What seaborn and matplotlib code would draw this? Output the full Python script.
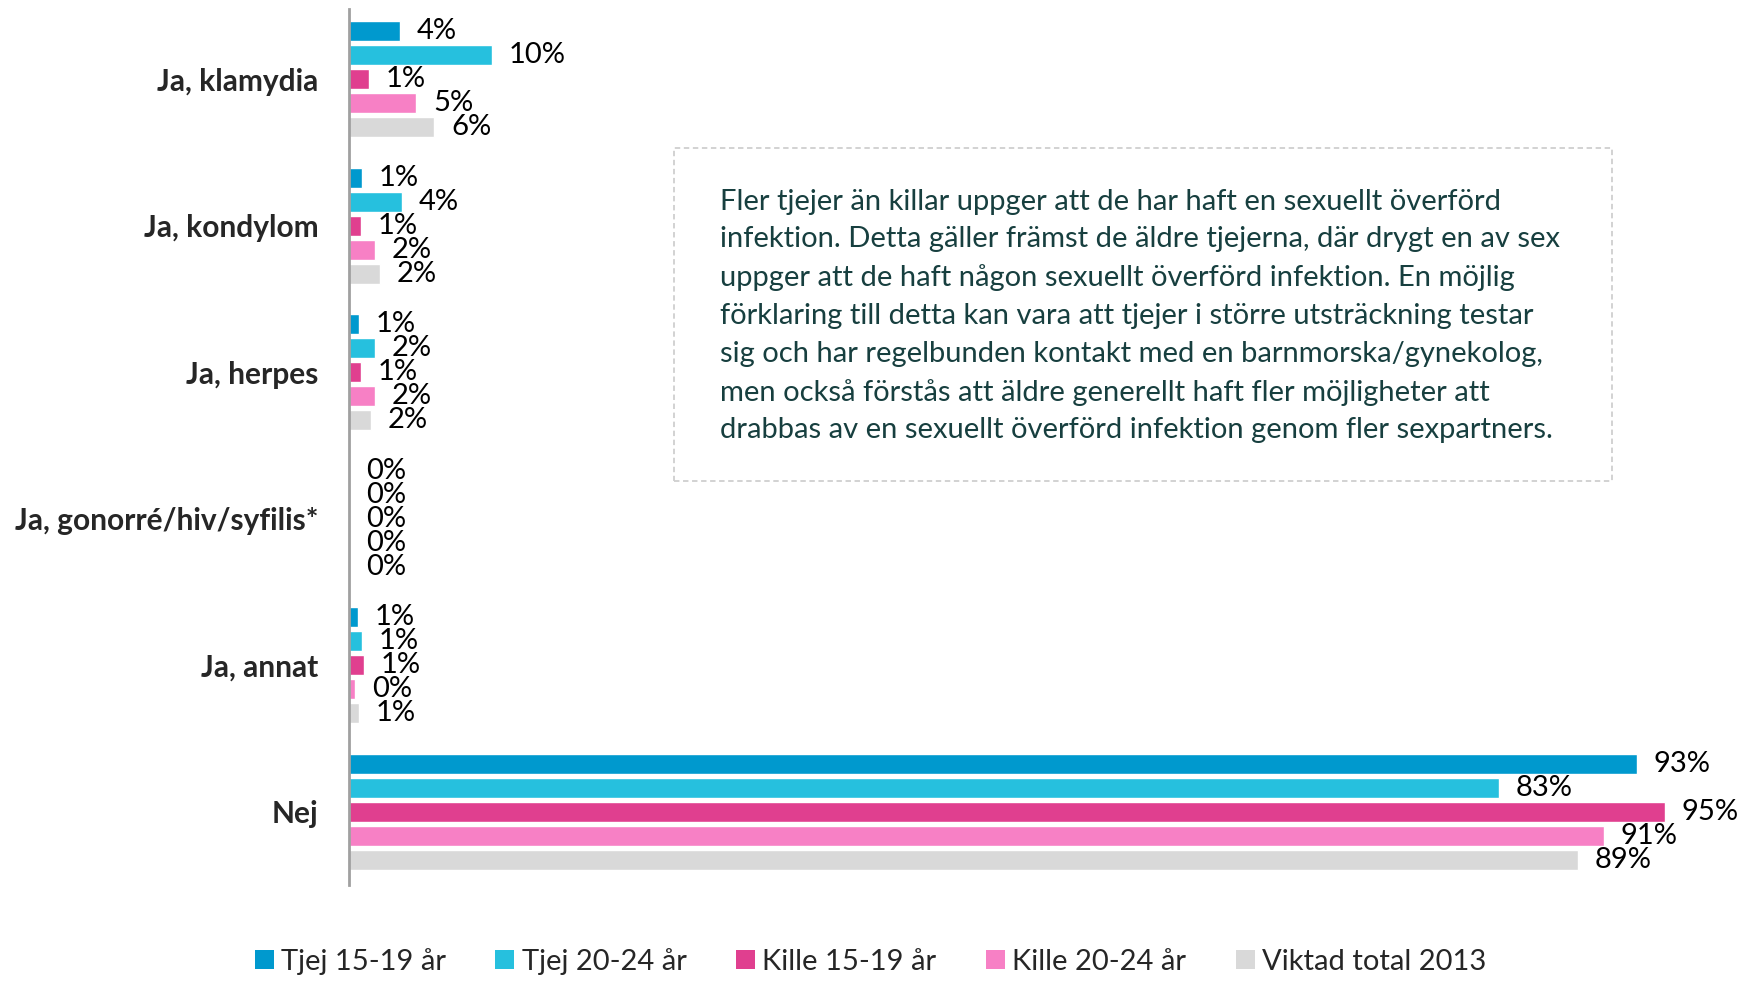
import pandas as pd
import seaborn as sns
import matplotlib.pyplot as plt
from matplotlib.patches import Patch, FancyBboxPatch

# ==============================
# Data
# ==============================
categories = ["Ja, klamydia", "Ja, kondylom", "Ja, herpes",
              "Ja, gonorré/hiv/syfilis*", "Ja, annat", "Nej"]
groups = ["Tjej 15-19 år", "Tjej 20-24 år", "Kille 15-19 år",
          "Kille 20-24 år", "Viktad total 2013"]

tjej_15_19 = [3.7, 0.9, 0.7, 0.0, 0.65, 93.0]
tjej_20_24 = [10.3, 3.8, 1.85, 0.0, 0.9, 83.0]
kille_15_19 = [1.45, 0.85, 0.85, 0.0, 1.05, 95.0]
kille_20_24 = [4.85, 1.85, 1.85, 0.0, 0.45, 90.6]
viktad_2013 = [6.15, 2.2, 1.55, 0.0, 0.75, 88.7]

colors = ["#0099CE", "#26C0DE", "#E03F8F", "#F780C5", "#D9D9D9"]

note = ("Fler tjejer än killar uppger att de har haft en sexuellt överförd\n"
        "infektion. Detta gäller främst de äldre tjejerna, där drygt en av sex\n"
        "uppger att de haft någon sexuellt överförd infektion. En möjlig\n"
        "förklaring till detta kan vara att tjejer i större utsträckning testar\n"
        "sig och har regelbunden kontakt med en barnmorska/gynekolog,\n"
        "men också förstås att äldre generellt haft fler möjligheter att\n"
        "drabbas av en sexuellt överförd infektion genom fler sexpartners.")

# long format table for seaborn
series = [tjej_15_19, tjej_20_24, kille_15_19, kille_20_24, viktad_2013]
rows = []
for g, vals in zip(groups, series):
    for c, v in zip(categories, vals):
        rows.append({"svar": c, "grupp": g, "andel": v})
df = pd.DataFrame(rows)

# ==============================
# Plot
# ==============================
sns.set_style("white")
plt.rcParams["font.family"] = ["Lato", "DejaVu Sans"]

fig = plt.figure(figsize=(17.41, 9.81), dpi=100)
ax = fig.add_axes([0.2005, 0.098, 0.7955, 0.893])

sns.barplot(data=df, y="svar", x="andel", hue="grupp", order=categories,
            hue_order=groups, palette=colors, orient="h", width=0.82,
            gap=0.17, saturation=1, legend=False, ax=ax)

# value labels (rounded half up like the source)
for cont in ax.containers:
    ax.bar_label(cont, labels=[f"{int(v + 0.5)}%" for v in cont.datavalues],
                 padding=12, fontsize=21, color="black")

ax.set_xlim(0, 100)
ax.set_ylim(5.5, -0.48)
ax.set_xlabel("")
ax.set_ylabel("")
ax.set_xticks([])
ax.tick_params(axis="y", length=0, pad=22)
for lab in ax.get_yticklabels():
    lab.set_fontsize(21.5)
    lab.set_fontweight("bold")
for side in ["top", "right", "bottom"]:
    ax.spines[side].set_visible(False)
ax.spines["left"].set_color("#A0A0A0")
ax.spines["left"].set_linewidth(2)

# comment box
box = FancyBboxPatch((674 / 1741, 1 - 481 / 981), (1612 - 674) / 1741,
                     (481 - 148) / 981, boxstyle="square,pad=0",
                     transform=fig.transFigure, fill=False,
                     edgecolor="#CFCFCF", linestyle=(0, (3, 2)), linewidth=1.3)
fig.add_artist(box)
fig.text(720 / 1741, 1 - 316 / 981, note, fontsize=21, color="#173F3F",
         va="center", ha="left", linespacing=1.55)

# legend
handles = [Patch(facecolor=c, edgecolor="none") for c in colors]
fig.legend(handles, groups, loc="center", bbox_to_anchor=(0.5, 0.02),
           ncol=5, frameon=False, fontsize=21, handlelength=0.65,
           handleheight=0.65, handletextpad=0.25, columnspacing=1.7)

fig.savefig("out.png", dpi=100)
